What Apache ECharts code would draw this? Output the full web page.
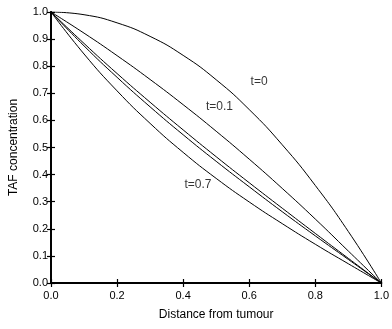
<!DOCTYPE html>
<html>
<head>
<meta charset="utf-8">
<script src="https://cdn.jsdelivr.net/npm/echarts@6/dist/echarts.min.js"></script>
<style>
  html, body { margin: 0; padding: 0; background: #fff; }
  #chart { width: 392px; height: 329px; }
</style>
</head>
<body>
<div id="chart"></div>
<script>
// distance from tumour (sample points)
const distance = [0, 0.1, 0.2, 0.3, 0.4, 0.5, 0.6, 0.7, 0.8, 0.9, 1.0]

// TAF concentration profiles
const tafT0 = [1, 0.99, 0.96, 0.91, 0.84, 0.75, 0.64, 0.51, 0.36, 0.19, 0]
const tafT01 = [1, 0.922, 0.839, 0.751, 0.658, 0.560, 0.457, 0.349, 0.236, 0.118, 0]
const tafMidA = [1, 0.884, 0.773, 0.667, 0.565, 0.466, 0.370, 0.276, 0.183, 0.091, 0]
const tafMidB = [1, 0.875, 0.759, 0.650, 0.547, 0.449, 0.355, 0.263, 0.174, 0.087, 0]
const tafT07 = [1, 0.845, 0.709, 0.589, 0.482, 0.386, 0.299, 0.219, 0.143, 0.071, 0]

// curve labels: [x, y, text]
const curveLabels = [
  [0.63, 0.742, 't=0'],
  [0.51, 0.65, 't=0.1'],
  [0.445, 0.362, 't=0.7']
]

const fontFamily = '"Liberation Sans", Arial, sans-serif'

const chart = echarts.init(document.getElementById('chart'))

const toPairs = (ys) => distance.map((x, i) => [x, ys[i]])

const curve = (ys) => ({
  type: 'line',
  xAxisIndex: 0,
  yAxisIndex: 0,
  data: toPairs(ys),
  smooth: true,
  showSymbol: false,
  lineStyle: { color: '#000', width: 1 },
  silent: true
})

const frameAxis = {
  min: 0,
  max: 1,
  axisLine: { show: true, lineStyle: { color: '#000', width: 1.8 } },
  axisTick: { show: true, inside: true, length: 4, lineStyle: { color: '#000', width: 1.2 } },
  splitLine: { show: false }
}

const option = {
  animation: false,
  backgroundColor: '#fff',
  grid: { left: 50, right: 7, top: 12, bottom: 46 },
  xAxis: [
    {
      ...frameAxis,
      type: 'value',
      position: 'bottom',
      interval: 0.2,
      name: 'Distance from tumour',
      nameLocation: 'middle',
      nameGap: 26,
      nameTextStyle: { color: '#000', fontSize: 12, fontFamily },
      axisLabel: {
        color: '#000', fontSize: 11, fontFamily, margin: 7,
        formatter: (v) => v.toFixed(1)
      }
    },
    {
      ...frameAxis,
      type: 'value',
      position: 'top',
      interval: 0.2,
      axisLabel: { show: false }
    }
  ],
  yAxis: [
    {
      ...frameAxis,
      type: 'value',
      position: 'left',
      interval: 0.1,
      name: 'TAF concentration',
      nameLocation: 'middle',
      nameGap: 31,
      nameTextStyle: { color: '#000', fontSize: 12, fontFamily },
      axisLabel: {
        color: '#000', fontSize: 11, fontFamily, margin: 3,
        formatter: (v) => v.toFixed(1)
      }
    },
    {
      ...frameAxis,
      type: 'value',
      position: 'right',
      interval: 0.1,
      axisLabel: { show: false }
    }
  ],
  series: [
    curve(tafT0),
    curve(tafT01),
    curve(tafMidA),
    curve(tafMidB),
    curve(tafT07),
    {
      type: 'scatter',
      data: curveLabels,
      symbolSize: 0,
      silent: true,
      label: {
        show: true,
        position: 'inside',
        color: '#000',
        fontSize: 12,
        fontFamily,
        formatter: (p) => p.data[2]
      }
    }
  ]
}

chart.setOption(option)
</script>
</body>
</html>
